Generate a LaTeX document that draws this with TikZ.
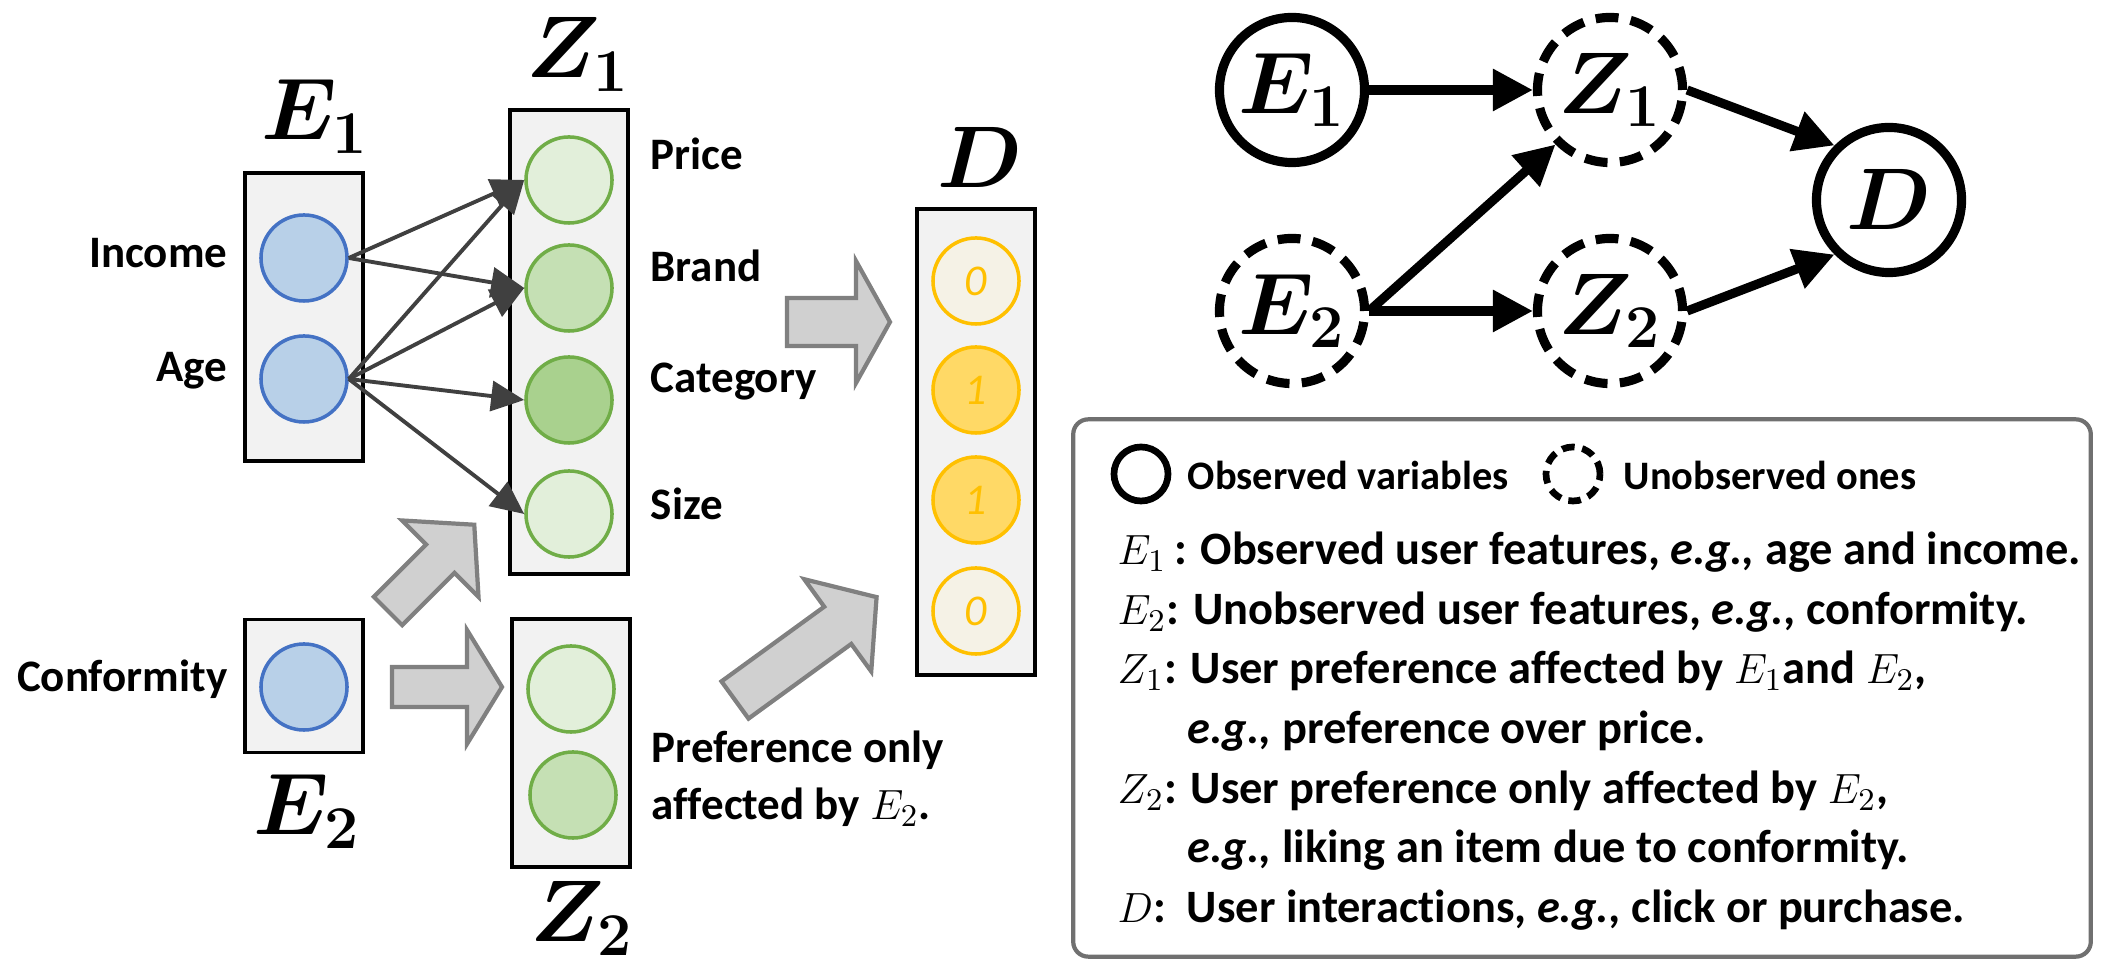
\documentclass[tikz,border=0pt]{standalone}
\usepackage{fontspec}
\setmainfont{Carlito}[Ligatures={NoCommon}]
\usepackage{bm}
\usetikzlibrary{arrows.meta}
\definecolor{boxgray}{HTML}{F2F2F2}
\definecolor{featblue}{HTML}{4472C4}
\definecolor{featfill}{HTML}{B8D0E8}
\definecolor{prefgreen}{HTML}{70AD47}
\definecolor{greenL}{HTML}{E2EFDA}
\definecolor{greenM}{HTML}{C5E0B4}
\definecolor{greenD}{HTML}{A9D18E}
\definecolor{clickorange}{HTML}{FFC000}
\definecolor{clickL}{HTML}{F5F2E6}
\definecolor{clickD}{HTML}{FFD966}
\definecolor{wiregray}{HTML}{404040}
\definecolor{arrowfill}{HTML}{D0D0D0}
\definecolor{arrowedge}{HTML}{808080}
\definecolor{leggray}{HTML}{707070}
\begin{document}
\begin{tikzpicture}[x=0.01cm, y=-0.01cm]
        \tikzset{
          box/.style={draw, line width=1.1pt, fill=boxgray, minimum width=1.18cm, inner sep=0pt},
          unit/.style={circle, draw, line width=1pt, minimum size=0.86cm, inner sep=0pt},
          feat/.style={unit, draw=featblue, fill=featfill},
          pref/.style={unit, draw=prefgreen},
          click/.style={unit, draw=clickorange, text=clickorange, font=\itshape\fontsize{12.5}{15}\selectfont},
          lab/.style={font=\bfseries\fontsize{12.8}{15}\selectfont, inner sep=0pt},
          big/.style={font=\fontsize{25}{30}\selectfont, inner sep=0pt},
          wire/.style={draw=wiregray, line width=1.1pt, -{Triangle[length=0.33cm, width=0.3cm]}},
          fatarrow/.style={draw=arrowedge, fill=arrowfill, line width=1.2pt, line join=miter},
          var/.style={circle, draw, line width=2.6pt, minimum size=1.45cm, inner sep=0pt, font=\fontsize{25}{30}\selectfont},
          hidden/.style={var, dash pattern=on 6.5pt off 3.5pt},
          cause/.style={line width=2.6pt, -{Triangle[length=0.4cm, width=0.4cm]}},
          leg/.style={font=\bfseries\fontsize{13.2}{15}\selectfont, inner sep=0pt, anchor=base west}
        }
        \useasboundingbox (0,0) rectangle (2106,977);

        % observed features
        \draw node[box, minimum height=2.88cm] (e1box) at (304,317) {};
        \draw node[big, anchor=base] (e1lab) at (315,140) {$\bm{E_1}$};
        \draw node[feat] (income) at (304,258) {};
        \draw node[feat] (age) at (304,379) {};
        \draw node[lab, anchor=base east] at (228,268) {Income};
        \draw node[lab, anchor=base east] at (228,382) {Age};

        % preferences Z1
        \draw node[box, minimum height=4.64cm] (z1box) at (569,342) {};
        \draw node[big, anchor=base] (z1lab) at (578,78) {$\bm{Z_1}$};
        \foreach \name/\lbl/\col/\y/\b in {price/Price/greenL/180/170, brand/Brand/greenM/288/282,
            cat/Category/greenD/400/393, size/Size/greenL/514/520} {
          \draw node[pref, fill=\col] (\name) at (569,\y) {};
          \draw node[lab, anchor=base west] at (650,\b) {\lbl};
        }
        \foreach \s/\t in {income/price, income/brand, age/price, age/brand, age/cat, age/size}
          \draw[wire] (\s.east) -- (\t.west);

        % unobserved feature
        \draw node[box, minimum height=1.33cm] (e2box) at (304,686) {};
        \draw node[feat] (conf) at (304,687) {};
        \draw node[big, anchor=base] (e2lab) at (307,835) {$\bm{E_2}$};
        \draw node[lab, anchor=base east] at (228,692) {Conformity};

        % preferences Z2
        \draw node[box, minimum height=2.47cm] (z2box) at (571,743) {};
        \draw node[pref, fill=greenL] (z2a) at (571,689) {};
        \draw node[pref, fill=greenM] (z2b) at (573,795) {};
        \draw node[big, anchor=base] (z2lab) at (582,942) {$\bm{Z_2}$};
        \draw node[lab, anchor=base west] at (651,763) {Preference only};
        \draw node[lab, anchor=base west] at (651,820) {affected by $E_2$.};

        % interactions D
        \draw node[box, minimum height=4.65cm] (dbox) at (976,442) {};
        \draw node[big, anchor=base] (dlab) at (980,188) {$\bm{D}$};
        \foreach \name/\v/\col/\y in {d1/0/clickL/281, d2/1/clickD/390, d3/1/clickD/500, d4/0/clickL/611}
          \draw node[click, fill=\col] (\name) at (976,\y) {\v};

        % block arrows
        \foreach \x/\y/\a/\l/\h/\s/\w in {388/611/45/122/48/20/54, 392/687/0/110/35/20/57,
            787/322/0/103/34/24/61, 735/700/36/175/48/23/57}
          \draw[fatarrow, shift={(\x,\y)}, rotate=\a] (0,-\s) -- ({\l-\h},-\s) -- ({\l-\h},-\w)
            -- (\l,0) -- ({\l-\h},\w) -- ({\l-\h},\s) -- (0,\s) -- cycle;

        % causal graph
        \draw node[var] (E1) at (1292,90) {$\bm{E_1}$};
        \draw node[hidden] (Z1) at (1610,90) {$\bm{Z_1}$};
        \draw node[hidden] (E2) at (1292,311) {$\bm{E_2}$};
        \draw node[hidden] (Z2) at (1610,311) {$\bm{Z_2}$};
        \draw node[var] (D) at (1889,200) {$\bm{D}$};

        \draw[cause] (E1.east) -- (Z1.west);
        \draw[cause] (E2.east) -- (Z1.south west);
        \draw[cause] (E2.east) -- (Z2.west);
        \draw[cause] (Z1.east) -- (D.north west);
        \draw[cause] (Z2.east) -- (D.south west);

        % legend
        \draw node[draw=leggray, line width=1.2pt, rounded corners=0.15cm, minimum width=10.17cm,
            minimum height=5.37cm] (legend) at (1582,688) {};
        \draw node[var, line width=1.9pt, minimum size=0.54cm] (obs) at (1141,474) {};
        \draw node[leg, font=\bfseries\fontsize{11.5}{14}\selectfont] at (1187,490) {Observed variables};
        \draw node[hidden, line width=1.9pt, minimum size=0.54cm, dash pattern=on 3.6pt off 2.2pt] (unobs) at (1573,474) {};
        \draw node[leg, font=\bfseries\fontsize{11.5}{14}\selectfont] at (1623,490) {Unobserved ones};
        \draw node[leg] at (1117,565) {$E_1$\,: Observed user features, \textit{e.g.,} age and income.};
        \draw node[leg] at (1117,625) {$E_2$: Unobserved user features, \textit{e.g.,} conformity.};
        \draw node[leg] at (1117,684) {$Z_1$: User preference affected by $E_1$and $E_2$,};
        \draw node[leg] at (1187,744) {\textit{e.g.,} preference over price.};
        \draw node[leg] at (1117,804) {$Z_2$: User preference only affected by $E_2$,};
        \draw node[leg] at (1187,863) {\textit{e.g.,} liking an item due to conformity.};
        \draw node[leg] at (1117,923) {$D$:\ \ User interactions, \textit{e.g.,} click or purchase.};
    \end{tikzpicture}
\end{document}
